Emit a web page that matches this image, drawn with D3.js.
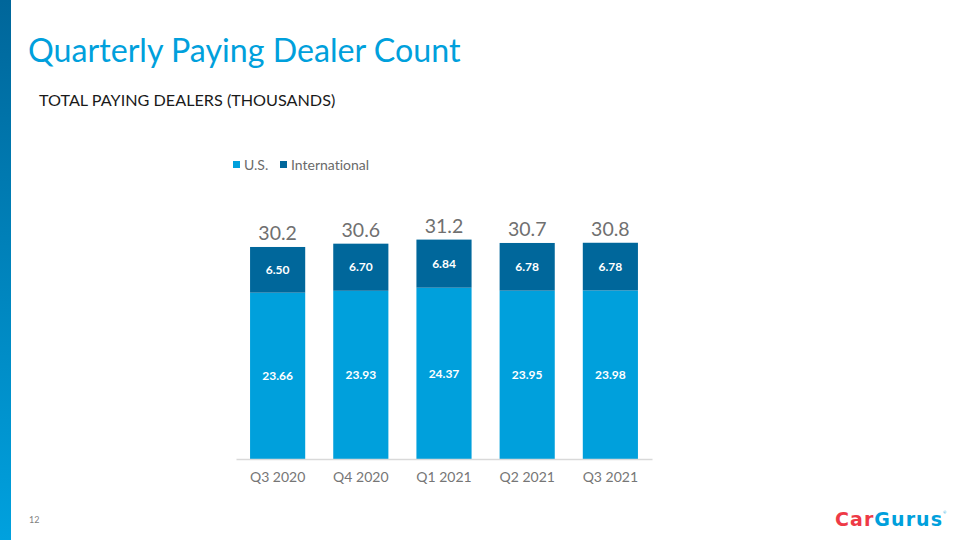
<!DOCTYPE html>
<html>
<head>
<meta charset="utf-8">
<script src="https://cdn.jsdelivr.net/npm/d3@7"></script>
<style>
	body { margin: 0; background: #fff; }
	svg { display: block; font-family: Lato, "Noto Sans", sans-serif; font-variant-ligatures: none; }
</style>
</head>
<body>
<svg id="chart"></svg>
<script>
const quarters = ["Q3 2020", "Q4 2020", "Q1 2021", "Q2 2021", "Q3 2021"];
const usDealers = [23.66, 23.93, 24.37, 23.95, 23.98];
const intlDealers = [6.50, 6.70, 6.84, 6.78, 6.78];
const totals = ["30.2", "30.6", "31.2", "30.7", "30.8"];
const seriesNames = ["U.S.", "International"];
const seriesColors = ["#00a0dc", "#00679b"];

const width = 960;
const height = 540;

const svg = d3.select("#chart")
	.attr("width", width)
	.attr("height", height);

// left accent stripe
const defs = svg.append("defs");
const grad = defs.append("linearGradient")
	.attr("id", "stripe")
	.attr("x1", 0).attr("y1", 0)
	.attr("x2", 0).attr("y2", 1);
grad.append("stop").attr("offset", "0%").attr("stop-color", "#00669a");
grad.append("stop").attr("offset", "100%").attr("stop-color", "#00a1de");
svg.append("rect")
	.attr("x", 0).attr("y", 0)
	.attr("width", 11).attr("height", height)
	.attr("fill", "url(#stripe)");

svg.append("text")
	.attr("x", 28).attr("y", 62)
	.attr("font-size", 32.2)
	.attr("fill", "#00a0dc")
	.text("Quarterly Paying Dealer Count");

svg.append("text")
	.attr("x", 39).attr("y", 106)
	.attr("font-size", 16.2)
	.attr("fill", "#1a1a1a")
	.text("TOTAL PAYING DEALERS (THOUSANDS)");

// legend
const legendPos = [233, 280];
const legend = svg.selectAll(".legend")
	.data(seriesNames)
	.enter()
	.append("g")
	.attr("class", "legend")
	.attr("transform", (d, i) => `translate(${legendPos[i]}, 161)`);
legend.append("rect")
	.attr("width", 7).attr("height", 7)
	.attr("fill", (d, i) => seriesColors[i]);
legend.append("text")
	.attr("x", 11).attr("y", 9)
	.attr("font-size", 14)
	.attr("fill", "#6a6a6a")
	.text((d) => d);

const data = quarters.map((q, i) => ({
	q,
	us: usDealers[i],
	intl: intlDealers[i],
	total: totals[i]
}));

const x = d3.scaleBand()
	.domain(quarters)
	.range([236, 652])
	.paddingInner(0.337)
	.paddingOuter(0.169);

const y = d3.scaleLinear()
	.domain([0, 10])
	.range([459, 388.7]);

const bars = svg.selectAll(".bar")
	.data(data)
	.enter()
	.append("g")
	.attr("class", "bar")
	.attr("transform", (d) => `translate(${x(d.q)}, 0)`);

bars.append("rect")
	.attr("y", (d) => y(d.us))
	.attr("width", x.bandwidth())
	.attr("height", (d) => y(0) - y(d.us))
	.attr("fill", seriesColors[0]);

bars.append("rect")
	.attr("y", (d) => y(d.us + d.intl))
	.attr("width", x.bandwidth())
	.attr("height", (d) => y(d.us) - y(d.us + d.intl))
	.attr("fill", seriesColors[1]);

bars.append("text")
	.attr("x", x.bandwidth() / 2)
	.attr("y", (d) => (y(0) + y(d.us)) / 2)
	.attr("dy", "0.35em")
	.attr("text-anchor", "middle")
	.attr("font-size", 12)
	.attr("font-weight", "bold")
	.attr("fill", "#fff")
	.text((d) => d.us.toFixed(2));

bars.append("text")
	.attr("x", x.bandwidth() / 2)
	.attr("y", (d) => (y(d.us) + y(d.us + d.intl)) / 2)
	.attr("dy", "0.35em")
	.attr("text-anchor", "middle")
	.attr("font-size", 12)
	.attr("font-weight", "bold")
	.attr("fill", "#fff")
	.text((d) => d.intl.toFixed(2));

bars.append("text")
	.attr("x", x.bandwidth() / 2)
	.attr("y", (d) => y(d.us + d.intl) - 7)
	.attr("text-anchor", "middle")
	.attr("font-size", 19.5)
	.attr("fill", "#707070")
	.text((d) => d.total);

// category axis
const axis = svg.append("g")
	.attr("transform", `translate(0, ${y(0)})`)
	.call(d3.axisBottom(x).tickSize(0).tickPadding(13));
axis.select(".domain")
	.attr("stroke", "#d9d9d9")
	.attr("stroke-width", 1.5);
axis.selectAll("text")
	.attr("font-family", "Lato, 'Noto Sans', sans-serif")
	.attr("font-size", 14)
	.attr("fill", "#767676");

// footer
svg.append("text")
	.attr("x", 29).attr("y", 523)
	.attr("font-size", 9)
	.attr("fill", "#7f7f7f")
	.text("12");

const logo = svg.append("text")
	.attr("x", 835).attr("y", 526)
	.attr("font-family", "'DejaVu Sans', sans-serif")
	.attr("font-size", 19)
	.attr("font-weight", "bold")
	.attr("textLength", 107);
logo.append("tspan").attr("fill", "#ee3a46").text("Car");
logo.append("tspan").attr("fill", "#00a0dc").text("Gurus");
svg.append("text")
	.attr("x", 943).attr("y", 514)
	.attr("font-size", 4)
	.attr("fill", "#00a0dc")
	.text("®");
</script>
</body>
</html>
